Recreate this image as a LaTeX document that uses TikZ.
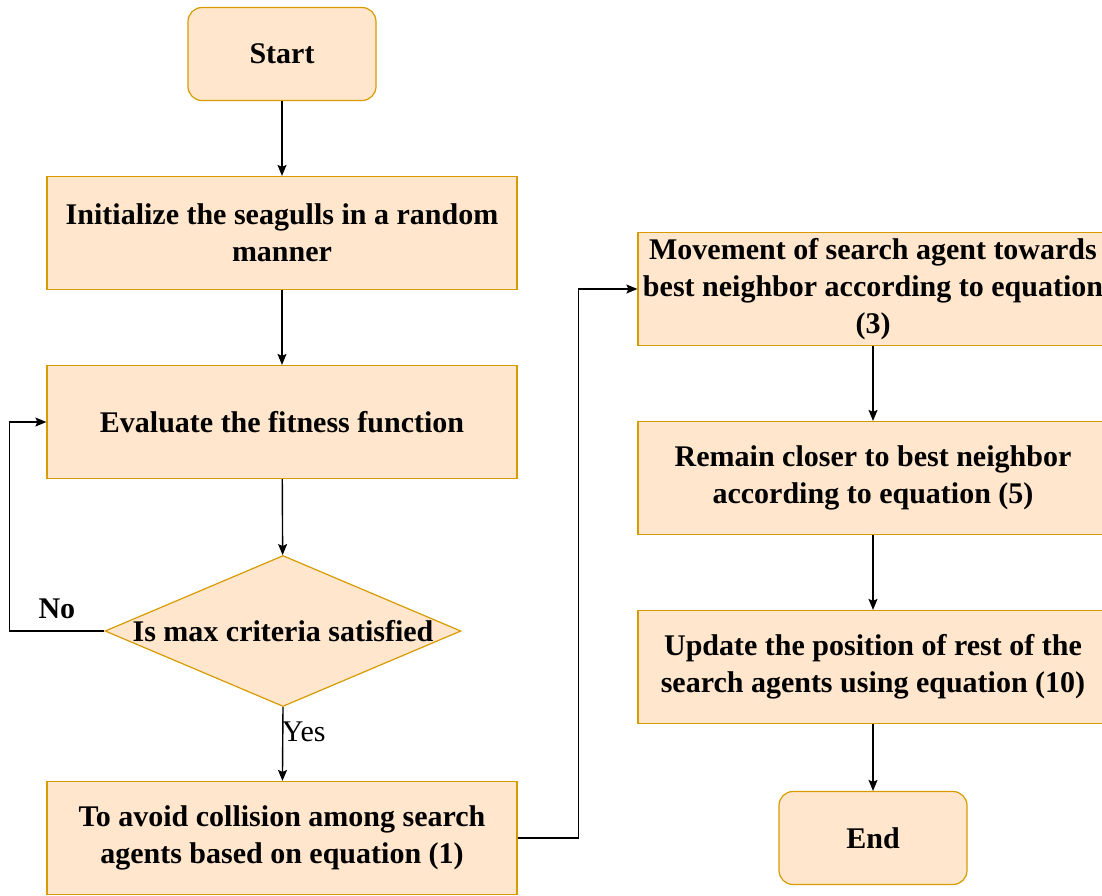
\documentclass[tikz,border=0pt]{standalone}
\usepackage{xcolor}
\usepackage{fontspec}
\setmainfont{Liberation Serif}[BoldFont={Liberation Serif Bold}]
\usepackage{tikz}
\usetikzlibrary{shapes.geometric, arrows.meta, positioning, calc}

\definecolor{boxfill}{HTML}{FFE6CC}
\definecolor{boxline}{HTML}{D79B00}

\begin{document}
\begin{tikzpicture}[x=1pt, y=-1pt, font=\fontsize{30}{37}\selectfont\bfseries]
\tikzstyle{terminal} = [rectangle, rounded corners=14pt, minimum width=188pt, minimum height=93pt, text centered, draw=boxline, line width=1.2pt, fill=boxfill]
\tikzstyle{process} = [rectangle, minimum width=470pt, minimum height=113pt, align=center, draw=boxline, line width=1.2pt, fill=boxfill]
\tikzstyle{decision} = [diamond, aspect=2.36, inner sep=0pt, minimum width=356pt, minimum height=151pt, text centered, draw=boxline, line width=1.2pt, fill=boxfill]
\tikzstyle{arrow} = [line width=1.4pt,-{Stealth[length=11pt,width=9pt,inset=2pt]}]

\useasboundingbox (0,0) rectangle (1102,895);

\node[terminal] (start) at (282,54) {Start};
\node[process] (init) at (282,233) {Initialize the seagulls in a random\\manner};
\node[process] (eval) at (282,422) {Evaluate the fitness function};
\node[decision] (crit) at (283,631) {Is max criteria satisfied};
\node[process] (avoid) at (282,838) {To avoid collision among search\\agents based on equation (1)};
\node[process] (move) at (873,289) {Movement of search agent towards\\best neighbor according to equation\\(3)};
\node[process] (remain) at (873,478) {Remain closer to best neighbor\\according to equation (5)};
\node[process] (update) at (873,667) {Update the position of rest of the\\search agents using equation (10)};
\node[terminal] (stop) at (873,838) {End};

\draw[arrow] (start) -- (init);
\draw[arrow] (init) -- (eval);
\draw[arrow] (eval) -- (crit);
\draw[arrow] (crit.west) -- node[above=8pt] {No} ++(-95,0) |- (eval.west);
\draw[arrow] (crit.south) -- node[pos=0.34, right=-5pt] {\mdseries Yes} (avoid);
\draw[arrow] (avoid.east) -- ++(61,0) |- (move.west);
\draw[arrow] (move) -- (remain);
\draw[arrow] (remain) -- (update);
\draw[arrow] (update) -- (stop);
\end{tikzpicture}
\end{document}
